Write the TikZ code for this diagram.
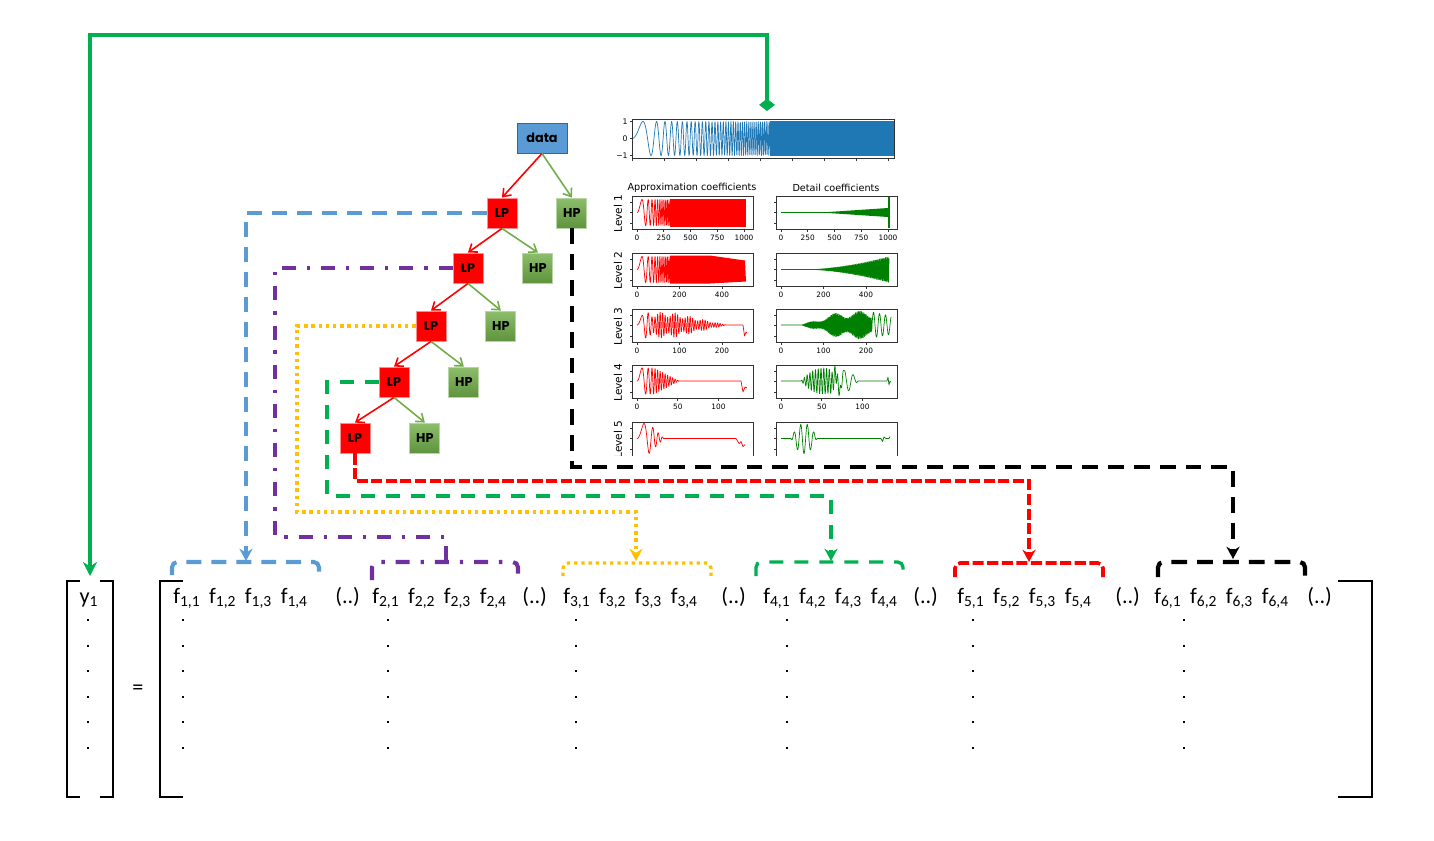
\documentclass[tikz,border=0pt]{standalone}
\usepackage{fontspec}
\setmainfont{Carlito}
\newfontfamily\plotfont{DejaVu Sans}
\newfontfamily\boxfont{Poppins}
\usetikzlibrary{arrows.meta,positioning}
\definecolor{lpred}{RGB}{255,0,0}
\definecolor{hpgreen}{RGB}{112,173,71}
\definecolor{datablue}{RGB}{91,155,213}
\definecolor{grpblue}{RGB}{91,155,213}
\definecolor{grppurple}{RGB}{112,48,160}
\definecolor{grpyellow}{RGB}{255,192,0}
\definecolor{grpgreen}{RGB}{0,176,80}
\definecolor{sigblue}{RGB}{31,119,180}
\definecolor{sigred}{RGB}{255,0,0}
\definecolor{siggreen}{RGB}{0,128,0}

\begin{document}
\begin{tikzpicture}[x=0.02cm, y=-0.02cm,
      declare function={ph(\x)=(\x<20)*3.6*\x*\x+(\x>=20)*(1440+144*(\x-20));},
      filt/.style={minimum width=6mm, minimum height=6mm, inner sep=0pt,
                   font=\boxfont\bfseries\fontsize{7.3}{8}\selectfont},
      databox/.style={filt, minimum width=10mm, fill=datablue, draw=datablue!65!black, line width=0.5pt},
      lpbox/.style={filt, fill=lpred, draw=lpred!45!white, line width=0.5pt},
      hpbox/.style={filt, top color=hpgreen!80!white, bottom color=hpgreen!85!black,
                    draw=hpgreen!50!white, line width=0.5pt},
      lparr/.style={-{Straight Barb[length=4pt,width=6pt]}, lpred, line width=0.9pt},
      hparr/.style={-{Straight Barb[length=4pt,width=6pt]}, hpgreen, line width=0.9pt},
      tipa/.style={-{Stealth[length=7pt,width=7.5pt]}},
      blueln/.style={grpblue, line width=2.3pt, dash pattern=on 8.5pt off 5.7pt},
      purpleln/.style={grppurple, line width=2.3pt, dash pattern=on 8pt off 6.2pt on 1.9pt off 6.2pt},
      yellowln/.style={grpyellow, line width=1.9pt, dash pattern=on 1.9pt off 2.2pt},
      greenln/.style={grpgreen, line width=1.9pt, dash pattern=on 8pt off 6.2pt},
      redln/.style={lpred, line width=2.1pt, dash pattern=on 6.3pt off 2pt},
      blackln/.style={black, line width=2.4pt, dash pattern=on 9pt off 5.7pt},
      grp/.style={rounded corners=3pt},
      brk/.style={black, line width=1.2pt},
      mat/.style={anchor=base west, inner sep=0pt, font=\fontsize{12.6}{14}\selectfont},
      axbox/.style={draw=black!80, line width=0.35pt},
      tk/.style={black!80, line width=0.3pt},
      sig/.style={line width=0.4pt, line join=round},
      ticklab/.style={anchor=north, inner sep=0pt, font=\plotfont\fontsize{4.2}{5}\selectfont},
      plotlab/.style={inner sep=0pt, font=\plotfont\fontsize{5.5}{6}\selectfont},
      levlab/.style={inner sep=0pt, rotate=90, font=\plotfont\fontsize{6}{7}\selectfont}]

    \useasboundingbox (0,0) rectangle (1434,840);

    % filter tree
    \node[databox] (data) at (542,138) {data};
    \node[lpbox] (lp1) at (502,213) {LP};
    \node[lpbox] (lp2) at (468,268) {LP};
    \node[lpbox] (lp3) at (431,326) {LP};
    \node[lpbox] (lp4) at (394,382) {LP};
    \node[lpbox] (lp5) at (355,438) {LP};
    \foreach \i in {1,...,5}
      \node[hpbox, right=7.8mm of lp\i] (hp\i) {HP};
    \draw[lparr] (data.south) -- (lp1.north);
    \draw[hparr] (data.south) -- (hp1.north);
    \foreach \a/\b in {1/2,2/3,3/4,4/5}{
      \draw[lparr] (lp\a.south) -- (lp\b.north);
      \draw[hparr] (lp\a.south) -- (hp\b.north);
    }

    % decomposition plots
    \begin{scope}
      \clip (600,112) rectangle (910,455);
      \begin{scope}[shift={(632,138.5)}]
        \draw[sig, sigblue] plot[domain=0:140, samples=700] (\x,{-17*sin(0.745*\x*\x)});
        \fill[sigblue] (138,-17.5) rectangle (262,17.5);
        \draw[axbox] (0,-19.5) rectangle (262,19.5);
        \foreach \u in {0,32,...,256} \draw[tk] (\u,19.5) -- ++(0,2.5);
        \foreach \v/\lab [count=\k] in {-17/1,0/0,17/−1}{
          \draw[tk] (0,\v) -- ++(-2.5,0);
          \node[anchor=east, inner sep=0pt, font=\plotfont\fontsize{4.4}{5}\selectfont] (yl\k) at (-4,\v) {\lab};
        }
      \end{scope}
      \node[plotlab] (apptitle) at (692,188) {Approximation coefficients};
      \node[plotlab] (dettitle) at (836,188) {Detail coefficients};
      \foreach \ty [count=\lv] in {196,253,309,365,422}
        \node[levlab] (lev\lv) at (618,\ty+17.5) {Level \lv};

      % approximation coefficients
      \begin{scope}[shift={(632,212.5)}]
        \draw[sig, sigred] plot[domain=5:40, samples=250] (\x,{-13*sin(3.6*(\x-5)^2)});
        \fill[sigred] (38,-14) rectangle (114,14);
      \end{scope}
      \begin{scope}[shift={(632,269.5)}]
        \draw[sig, sigred] plot[domain=5:40, samples=250] (\x,{-13*sin(3.6*(\x-5)^2)});
        \fill[sigred] (38,-14) -- (78,-14) -- (113,-9) -- (114,12) -- (78,14) -- (38,14) -- cycle;
      \end{scope}
      \begin{scope}[shift={(632,325)}]
        \draw[sig, sigred] plot[domain=5:96, samples=500]
            (\x,{-13*((\x<40)+(\x>=40)*max(0,1-(\x-40)/55))*(0.8+0.2*cos(25*\x))*sin(ph(\x-5))})
            -- (111,0) -- (112.5,11) -- (114,7) -- (115,8);
      \end{scope}
      \begin{scope}[shift={(632,381)}]
        \draw[sig, sigred] plot[domain=5:50, samples=300]
            (\x,{-13*((\x<22)+(\x>=22)*max(0,1-(\x-22)/25))*sin(ph(\x-5))})
            -- (109,0) -- (111,11) -- (113,6) -- (115,7);
      \end{scope}
      \begin{scope}[shift={(632,438.5)}]
        \draw[sig, sigred] plot[domain=5:34, samples=200]
            (\x,{-15*((\x<17)+(\x>=17)*max(0,1-(\x-17)/15))*sin(1.8*(\x-5)^2)})
            -- (104,0) -- (107,5) -- (109,3) -- (111,8) -- (113,6);
      \end{scope}

      % detail coefficients
      \begin{scope}[shift={(776,212.5)}]
        \draw[sig, siggreen] (5,0) -- (112,0);
        \fill[siggreen] (45,0) -- (112,-4.5) -- (112,4.5) -- cycle;
        \draw[siggreen, line width=0.7pt] (113,-15.5) -- (113,15.5);
      \end{scope}
      \begin{scope}[shift={(776,269.5)}]
        \draw[sig, siggreen] (5,0) -- plot[domain=38:113, samples=600]
            (\x,{-13*((\x-38)/75)*(0.4+0.6*(\x-38)/75)*sin(3*mod(100*\x,360))});
      \end{scope}
      \begin{scope}[shift={(776,325)}]
        \draw[sig, siggreen] (5,0) -- plot[domain=25:96, samples=500]
            (\x,{-14*min(1,(\x-25)/40)*(0.75+0.25*sin(14*\x))*sin(3*mod(100*\x,360))})
            -- plot[domain=96:115, samples=100] (\x,{-13*(1-0.3*(\x-96)/19)*sin(60*(\x-96))});
      \end{scope}
      \begin{scope}[shift={(776,381)}]
        \draw[sig, siggreen] plot[domain=5:110, samples=600]
            (\x,{-13*max(0,1-((\x-47)/22)^2)*sin(130*\x)-11*max(0,1-((\x-68)/14)^2)*sin(40*(\x-57))})
            -- (111,0) -- (112,-4) -- (113,4) -- (114,0) -- (115,1);
      \end{scope}
      \begin{scope}[shift={(776,438.5)}]
        \draw[sig, siggreen] plot[domain=5:100, samples=400]
            (\x,{-15*max(0,1-((\x-28)/13)^2)*sin(55*(\x-10))})
            -- (105,0) -- (106.5,3) -- (108,-1.5) -- (110,0) -- (113,0) -- (114,-2);
      \end{scope}

      % axes
      \foreach \ty/\labs [count=\lv] in {196/{5/0,31.75/250,58.5/500,85.25/750,112/1000},
                                         253/{5/0,47.5/200,90/400},
                                         309/{5/0,47.5/100,90/200},
                                         365/{5/0,45.75/50,86.5/100}}{
        \foreach \bx in {632,776}{
          \draw[axbox] (\bx,\ty) rectangle ++(121,33);
          \foreach \q in {6,16.5,27} \draw[tk] (\bx,\ty+\q) -- ++(-2.5,0);
          \foreach \p/\lab [count=\k] in \labs {
            \draw[tk] (\bx+\p,\ty+33) -- ++(0,2.5);
            \node[ticklab] (tl\lv-\bx-\k) at (\bx+\p,\ty+38.5) {\lab};
          }
        }
      }
      \foreach \bx in {632,776}{
        \draw[axbox] (\bx,458) -- (\bx,422) -- (\bx+121,422) -- (\bx+121,458);
        \foreach \q in {6,16.5,27} \draw[tk] (\bx,422+\q) -- ++(-2.5,0);
      }
    \end{scope}

    % matrix
    \node[mat, anchor=base] (y1) at (89,603) {y\textsubscript{1}};
    \node[mat, anchor=center] (eq) at (138,690) {=};
    \foreach \g/\gx/\dx in {1/173/335, 2/372/522, 3/563/721, 4/763/913, 5/957/1115, 6/1154/1307}{
      \foreach \j in {1,...,4}
        \node[mat] (f\g\j) at ({\gx+35.8*(\j-1)},603) {f\textsubscript{\g,\j}};
      \node[mat] (more\g) at (\dx,603) {(..)};
    }
    \foreach \cx in {88,183,388,576,787,973,1184}
      \foreach \cy in {620,646,671,697,722,748}
        \fill (\cx-1.2,\cy-1.2) rectangle ++(2.4,2.4);
    \draw[brk] (80,581) -| (67,797) -- (80,797);
    \draw[brk] (100,581) -| (113,797) -- (100,797);
    \draw[brk] (183,581) -| (160,797) -- (183,797);
    \draw[brk] (1338,581) -| (1372,797) -- (1338,797);

    % feature groups
    \draw[blueln, grp] (172,575) -- (172,562) -- (319,562) -- (319,575);
    \draw[purpleln, grp] (372,580) -- (372,562) -- (518,562) -- (518,578);
    \draw[yellowln, grp] (563,576) -- (563,563) -- (711,563) -- (711,576);
    \draw[greenln, grp] (756,576) -- (756,562) -- (903,562) -- (903,576);
    \draw[redln, grp] (955,577) -- (955,563) -- (1103,563) -- (1103,577);
    \draw[blackln, grp] (1158,577) -- (1158,562) -- (1305,562) -- (1305,576);

    \coordinate (g1) at (246,561);
    \coordinate (g2) at (446,562);
    \coordinate (g3) at (636,561);
    \coordinate (g4) at (831,561);
    \coordinate (g5) at (1029,562);
    \coordinate (g6) at (1233,559);
    \coordinate (sigtop) at (767,111);
    \coordinate (ytop) at (90,576);

    \draw[blueln, tipa] (lp1.west) -| (g1);
    \draw[purpleln] (lp2.west) -| (275,537) -| (g2);
    \draw[yellowln, tipa] (lp3.west) -| (297,512) -| (g3);
    \draw[greenln, tipa] (lp4.west) -| (327,496) -| (g4);
    \draw[redln, tipa] (lp5.south) |- (1029,481) -- (g5);
    \draw[blackln, tipa] (hp1.south) |- (1233,467) -- (g6);
    \draw[grpgreen, line width=2pt, {Diamond[length=7pt,width=9pt]}-{Stealth[length=8pt,width=8pt]}]
      (sigtop) -- ++(0,-76) -| (ytop);
  \end{tikzpicture}
\end{document}
